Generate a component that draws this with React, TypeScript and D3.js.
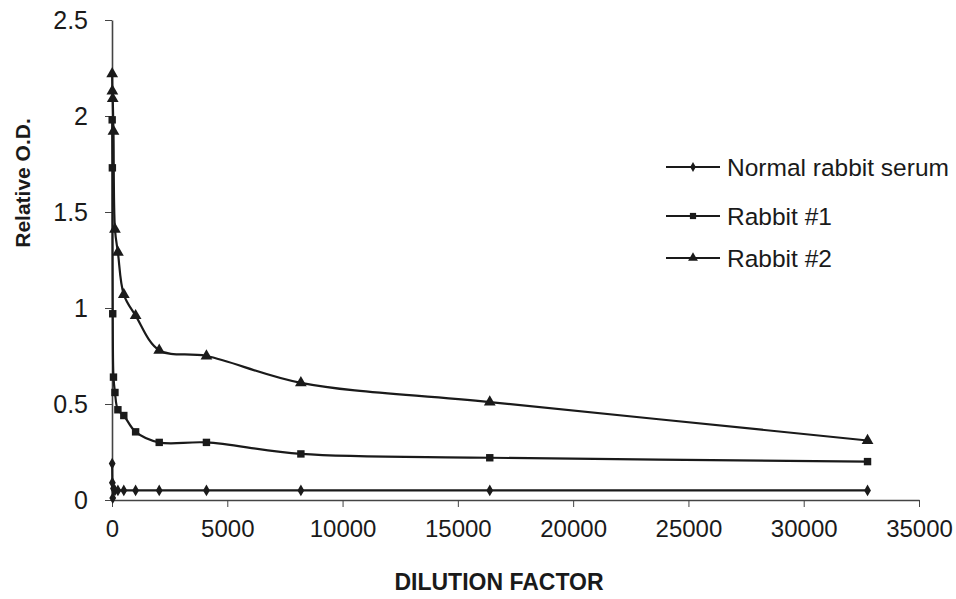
import React, { useRef, useEffect } from "react";
import * as d3 from "d3";

const dilutions = [8, 16, 32, 64, 128, 256, 512, 1024, 2048, 4096, 8192, 16384, 32768];
const normalSerum = [0.19, 0.09, 0.01, 0.06, 0.05, 0.05, 0.05, 0.05, 0.05, 0.05, 0.05, 0.05, 0.05];
const rabbit1 = [1.98, 1.73, 0.97, 0.64, 0.56, 0.47, 0.44, 0.355, 0.3, 0.3, 0.24, 0.22, 0.2];
const rabbit2 = [2.22, 2.13, 2.09, 1.92, 1.41, 1.29, 1.07, 0.96, 0.78, 0.75, 0.61, 0.51, 0.31];
const seriesNames = ["Normal rabbit serum", "Rabbit #1", "Rabbit #2"];
const xTicks = [0, 5000, 10000, 15000, 20000, 25000, 30000, 35000];
const yTicks = [0, 0.5, 1, 1.5, 2, 2.5];

const W = 956;
const H = 599;
const FONT = "'Liberation Sans', Arial, sans-serif";
const INK = "#1a1a1a";

function App() {
  const svgRef = useRef<SVGSVGElement>(null);

  useEffect(() => {
    const svg = d3.select(svgRef.current);
    svg.selectAll("*").remove();

    const x = d3.scaleLinear().domain([0, 35000]).range([112, 919]);
    const y = d3.scaleLinear().domain([0, 2.5]).range([500, 20]);

    // axes
    const xAxis = d3.axisBottom(x).tickValues(xTicks).tickSize(7).tickSizeOuter(0).tickPadding(13)
      .tickFormat(d => String(d));
    svg.append("g").attr("transform", "translate(0,500)").call(xAxis)
      .call(g => g.select(".domain").attr("stroke", "#444").attr("stroke-width", 1.6))
      .call(g => g.selectAll("line").attr("stroke", "#444"))
      .call(g => g.selectAll("text").attr("font-size", 24).attr("font-family", FONT).attr("fill", INK));

    const yAxis = d3.axisLeft(y).tickValues(yTicks).tickSize(7).tickSizeOuter(0).tickPadding(17)
      .tickFormat(d => String(d));
    svg.append("g").attr("transform", "translate(112,0)").call(yAxis)
      .call(g => g.select(".domain").attr("stroke", "#444").attr("stroke-width", 1.6))
      .call(g => g.selectAll("line").attr("stroke", "#444"))
      .call(g => g.selectAll("text").attr("font-size", 25).attr("font-family", FONT).attr("fill", INK));

    // axis titles
    svg.append("text")
      .attr("x", 499).attr("y", 590)
      .attr("text-anchor", "middle")
      .attr("font-family", FONT).attr("font-weight", "bold").attr("font-size", 23)
      .attr("fill", INK)
      .text("DILUTION FACTOR");
    svg.append("text")
      .attr("transform", "translate(30,183) rotate(-90)")
      .attr("text-anchor", "middle")
      .attr("font-family", FONT).attr("font-weight", "bold").attr("font-size", 21)
      .attr("fill", INK)
      .text("Relative O.D.");

    const allSeries = [normalSerum, rabbit1, rabbit2];
    const symbols = [d3.symbolDiamond, d3.symbolSquare, d3.symbolTriangle];
    const sizes = [40, 55, 60];

    const line = d3.line<number>()
      .x((_, i) => x(dilutions[i]))
      .y(v => y(v))
      .curve(d3.curveCatmullRom.alpha(0.5));

    allSeries.forEach((vals, s) => {
      svg.append("path")
        .attr("d", line(vals))
        .attr("fill", "none")
        .attr("stroke", INK)
        .attr("stroke-width", 2.2);
      svg.append("g").selectAll("path")
        .data(vals)
        .join("path")
        .attr("transform", (v, i) => `translate(${x(dilutions[i])},${y(v)})`)
        .attr("d", d3.symbol().type(symbols[s]).size(sizes[s])())
        .attr("fill", INK);
    });

    // legend
    const rows = [167, 216, 258];
    seriesNames.forEach((name, s) => {
      const g = svg.append("g").attr("transform", `translate(0,${rows[s]})`);
      g.append("line").attr("x1", 666).attr("x2", 720).attr("y1", 0).attr("y2", 0)
        .attr("stroke", INK).attr("stroke-width", 2.2);
      g.append("path").attr("transform", "translate(693,0)")
        .attr("d", d3.symbol().type(symbols[s]).size(sizes[s] * 0.7)())
        .attr("fill", INK);
      g.append("text").attr("x", 727).attr("y", 9)
        .attr("font-family", FONT).attr("font-size", 24.5).attr("fill", INK)
        .text(name);
    });
  }, []);

  return (
    <svg ref={svgRef} width={W} height={H}
      style={{ position: "absolute", left: 0, top: 0, background: "#fff" }} />
  );
}

export default App;
